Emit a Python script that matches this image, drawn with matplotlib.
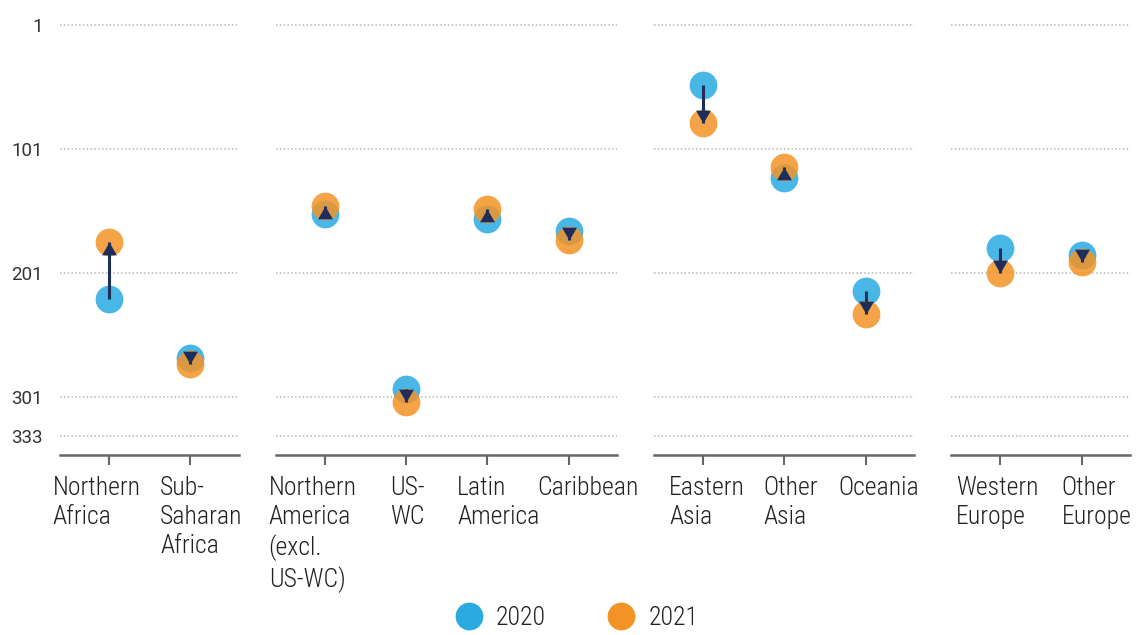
import matplotlib
matplotlib.use("Agg")
import matplotlib.pyplot as plt
from matplotlib.lines import Line2D
from matplotlib.path import Path
from matplotlib.markers import MarkerStyle

plt.rcParams['font.family'] = ['Roboto Condensed', 'Liberation Sans Narrow', 'Roboto', 'DejaVu Sans']

# regions grouped by continent, ranks (1 = best)
groups = [
    ["Northern\nAfrica", "Sub-\nSaharan\nAfrica"],
    ["Northern\nAmerica\n(excl.\nUS-WC)", "US-\nWC", "Latin\nAmerica", "Caribbean"],
    ["Eastern\nAsia", "Other\nAsia", "Oceania"],
    ["Western\nEurope", "Other\nEurope"],
]
rank_2020 = [
    [222, 270],
    [154, 295, 158, 167],
    [50, 125, 216],
    [181, 187],
]
rank_2021 = [
    [176, 275],
    [147, 305, 150, 175],
    [80, 116, 234],
    [201, 192],
]
yticks = [1, 101, 201, 301, 333]

# horizontal placement of each category label relative to its tick (pixels)
label_shift = [
    [-56, -30],
    [-56, -16, -30, -31],
    [-34, -21, -27],
    [-44, -20],
]

blue = "#29abe2"
orange = "#f39325"
navy = "#1f2d5c"

# arrow heads: tip at the origin, base behind it
head_up = MarkerStyle(Path([(0, 0), (-0.58, -1), (0.58, -1), (0, 0)]))
head_down = MarkerStyle(Path([(0, 0), (-0.58, 1), (0.58, 1), (0, 0)]))

fig = plt.figure(figsize=(11.37, 6.35), dpi=100)
W, H = 1137, 635
px_per_cat = 81.3
left = 60
gap = 37
bottom_px, top_px = 455, 10

for gi, (labels, a, b) in enumerate(zip(groups, rank_2020, rank_2021)):
    width = (len(labels) + 0.2) * px_per_cat
    ax = fig.add_axes([left / W, 1 - bottom_px / H, width / W, (bottom_px - top_px) / H])
    left += width + gap

    x = list(range(len(labels)))
    ax.scatter(x, a, s=400, color=blue, alpha=0.85, linewidths=0, zorder=3)
    ax.scatter(x, b, s=400, color=orange, alpha=0.85, linewidths=0, zorder=4)
    for xi, v0, v1 in zip(x, a, b):
        ax.plot([xi, xi], [v0, v1], color=navy, lw=2.2, solid_capstyle='butt', zorder=5)
        ax.plot(xi, v1, marker=head_up if v1 < v0 else head_down, ms=18.5,
                color=navy, mew=0, zorder=6)

    ax.set_xlim(-0.6, len(labels) - 0.4)
    ax.set_ylim(348, -10.8)
    ax.set_yticks(yticks)
    ax.set_yticklabels([str(t) for t in yticks] if gi == 0 else [],
                       family=['Roboto', 'DejaVu Sans'], fontsize=13.5)
    ax.tick_params(axis='y', length=0, pad=12.5, labelcolor="#333333")
    ax.set_xticks(x)
    ax.set_xticklabels([])
    ax.tick_params(axis='x', length=7, width=1.5, color="#666666")
    for xi, lab, dx in zip(x, labels, label_shift[gi]):
        ax.annotate(lab, xy=(xi, 0), xycoords=ax.get_xaxis_transform(),
                    xytext=(dx, -21), textcoords='offset pixels',
                    ha='left', va='top', fontsize=18.5, fontweight='light',
                    color="#222222", linespacing=1.26, annotation_clip=False)
    ax.grid(axis='y', color="#b5b5b5", linestyle=(0, (1, 1.5)), lw=1.1)
    ax.set_axisbelow(True)
    for s in ['top', 'right', 'left']:
        ax.spines[s].set_visible(False)
    ax.spines['bottom'].set_color("#666666")
    ax.spines['bottom'].set_linewidth(1.8)

handles = [
    Line2D([], [], marker='o', ls='', ms=20, color=blue, mew=0, label="2020"),
    Line2D([], [], marker='o', ls='', ms=20, color=orange, mew=0, label="2021"),
]
fig.legend(handles=handles, loc='center', bbox_to_anchor=(0.5075, 0.027), ncol=2,
           frameon=False, columnspacing=2.45, handlelength=1.0, handletextpad=0.55,
           labelcolor="#222222", prop={'weight': 'light', 'size': 18.5})

fig.savefig("out.png", dpi=100)
